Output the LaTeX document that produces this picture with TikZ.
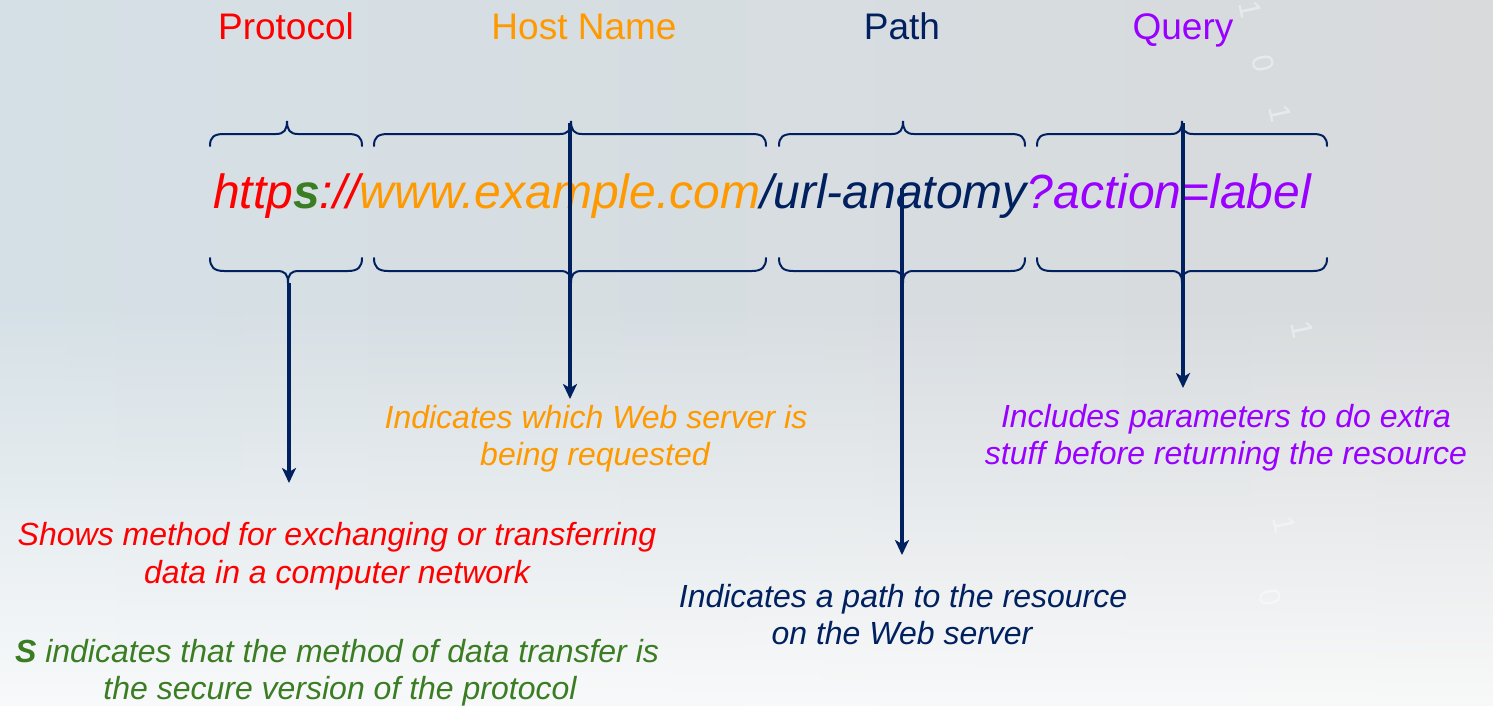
\documentclass[tikz,border=0pt]{standalone}
\usepackage{fontspec}
\setmainfont{Liberation Sans}
\usetikzlibrary{arrows.meta,fadings}

\definecolor{navy}{HTML}{002060}
\definecolor{proto}{HTML}{FF0000}
\definecolor{host}{HTML}{FF9900}
\definecolor{query}{HTML}{9900FF}
\definecolor{secure}{HTML}{3B7D23}
\definecolor{bgleft}{HTML}{D5E0E6}
\definecolor{bgright}{HTML}{D8DADC}

% curly brace opening downwards: left end, tip, right end
\newcommand{\urltopbrace}[3]{%
  \draw[brace] (#1,146) .. controls (#1,137) and (#1+4,134) .. (#1+14,134)
    -- (#2-11,134) .. controls (#2-3,134) and (#2,130) .. (#2,121)
    .. controls (#2,130) and (#2+3,134) .. (#2+11,134)
    -- (#3-14,134) .. controls (#3-4,134) and (#3,137) .. (#3,146);}
% curly brace opening upwards
\newcommand{\urlbotbrace}[3]{%
  \draw[brace] (#1,258) .. controls (#1,267) and (#1+4,271) .. (#1+14,271)
    -- (#2-11,271) .. controls (#2-3,271) and (#2,274) .. (#2,283)
    .. controls (#2,274) and (#2+3,271) .. (#2+11,271)
    -- (#3-14,271) .. controls (#3-4,271) and (#3,267) .. (#3,258);}

\begin{document}
\begin{tikzpicture}[x=1pt,y=-1pt,
  heading/.style={anchor=base,inner sep=0pt,font=\fontsize{37}{44}\selectfont},
  note/.style={anchor=base,inner sep=0pt,font=\fontsize{32}{38}\selectfont\itshape},
  bit/.style={inner sep=0pt,text=white,opacity=0.4,font=\fontsize{30}{34}\selectfont,rotate=-78},
  brace/.style={draw=navy,line width=2pt,line cap=round},
  pointer/.style={draw=navy,line width=3.6pt,-{Stealth[length=15pt,width=14pt,inset=4pt]}}
]
\useasboundingbox (0,0) rectangle (1493,705);

% backdrop
\shade[left color=bgleft,right color=bgright] (-10,-10) rectangle (1503,715);
\fill[white,opacity=0.85,path fading=north] (-10,300) rectangle (1503,715);
\foreach \x/\y/\d [count=\i] in {1250/10/1,1263/64/0,1280/114/1,1302/330/1,1284/525/1,1270/598/0}
  \node[bit] (bit\i) at (\x,\y) {\d};

% part names
\node[heading,text=proto] (hProto) at (286,39) {Protocol};
\node[heading,text=host]  (hHost)  at (584,39) {Host Name};
\node[heading,text=navy]  (hPath)  at (902,39) {Path};
\node[heading,text=query] (hQuery) at (1183,39) {Query};

% the address itself
\node[anchor=base west,inner sep=0pt,font=\fontsize{48}{56}\selectfont\itshape] (url) at (213,208)
  {\color{proto}http\textbf{\color{secure}s}://\color{host}www.example.com\color{navy}/url-anatomy\color{query}?action=label};

% braces around each part
\urltopbrace{210}{287}{362}
\urltopbrace{374}{571}{766}
\urltopbrace{779}{903}{1025}
\urltopbrace{1037}{1182}{1327}
\urlbotbrace{210}{288}{362}
\urlbotbrace{374}{571}{766}
\urlbotbrace{779}{903}{1025}
\urlbotbrace{1037}{1182}{1327}

% explanations
\node[note,text=host] (dHost1) at (596,428) {Indicates which Web server is};
\node[note,text=host] (dHost2) at (595,465.5) {being requested};
\node[note,text=query] (dQuery1) at (1226,427) {Includes parameters to do extra};
\node[note,text=query] (dQuery2) at (1226,464.5) {stuff before returning the resource};
\node[note,text=proto] (dProto1) at (337,545) {Shows method for exchanging or transferring};
\node[note,text=proto] (dProto2) at (337,583) {data in a computer network};
\node[note,text=secure] (dSecure1) at (337,662) {\textbf{S} indicates that the method of data transfer is};
\node[note,text=secure] (dSecure2) at (340,699) {the secure version of the protocol};
\node[note,text=navy] (dPath1) at (903,607) {Indicates a path to the resource};
\node[note,text=navy] (dPath2) at (902,644) {on the Web server};

% pointers from the braces down to the explanations
\coordinate (pStart) at (289,283);
\coordinate (pEnd) at (289,483);
\coordinate (hStart) at (570,123);
\coordinate (hEnd) at (570,399);
\coordinate (aStart) at (902,188);
\coordinate (aEnd) at (902,555);
\coordinate (qStart) at (1183,123);
\coordinate (qEnd) at (1183,388);
\draw[pointer] (pStart) -- (pEnd);
\draw[pointer] (hStart) -- (hEnd);
\draw[pointer] (aStart) -- (aEnd);
\draw[pointer] (qStart) -- (qEnd);
\end{tikzpicture}
\end{document}
